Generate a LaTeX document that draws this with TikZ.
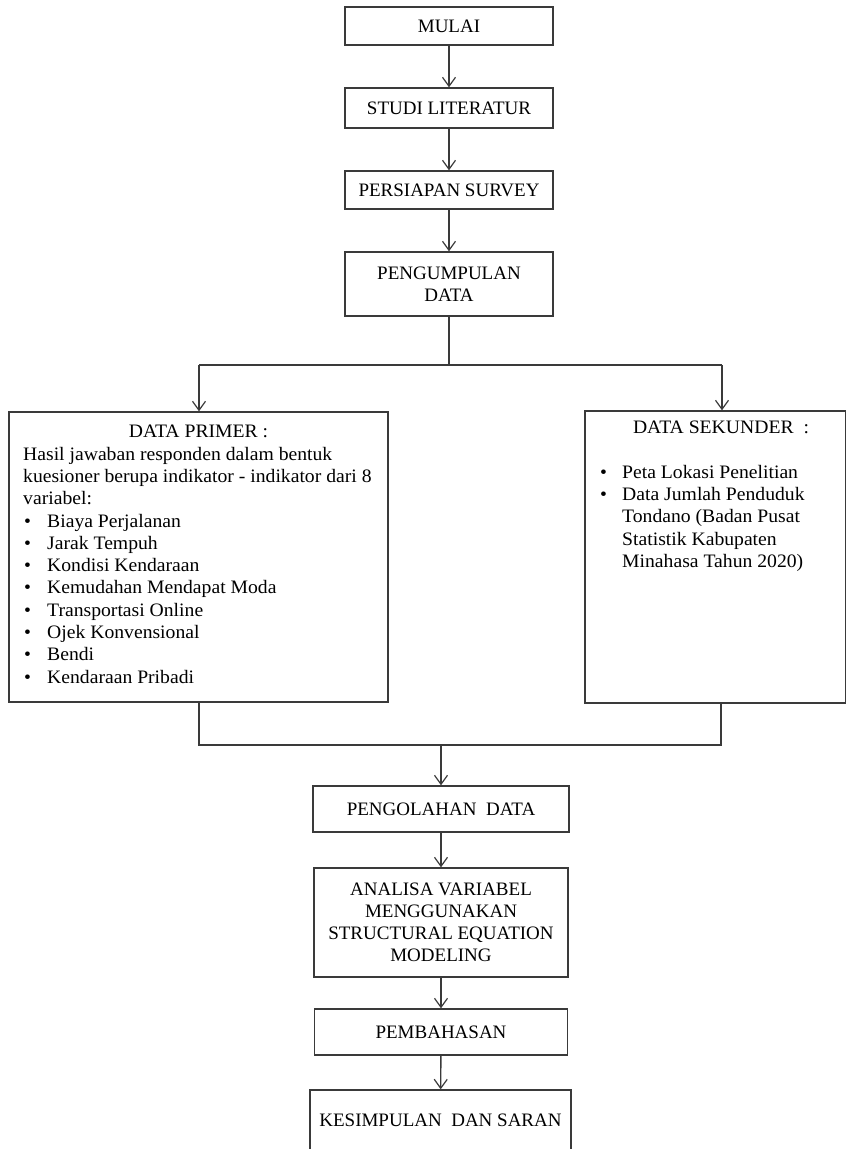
\documentclass[tikz,border=0pt]{standalone}
\usepackage{fontspec}
\setmainfont{Liberation Serif}
\newfontfamily\listfont{Liberation Serif}[FakeStretch=1.035]
\usetikzlibrary{arrows.meta}
\definecolor{linecol}{HTML}{3A3A3A}
\begin{document}
\begin{tikzpicture}[x=1pt,y=-1pt,
  box/.style={draw=linecol, line width=1.4pt, inner sep=0pt, align=center, font=\fontsize{19}{22}\selectfont},
  conn/.style={draw=linecol, line width=1.4pt},
  arr/.style={conn, -{Straight Barb[length=9pt,width=13pt,line width=1.2pt]}},
  txt/.style={inner sep=0pt, anchor=base west, font=\listfont\fontsize{19}{22}\selectfont},
  ctxt/.style={txt, anchor=base}]
\useasboundingbox (0,0) rectangle (846,1149);
% boxes
\node[box, minimum width=208pt, minimum height=38pt] (mulai) at (449,26) {MULAI};
\node[box, minimum width=208pt, minimum height=40pt] (studi) at (449,108) {STUDI LITERATUR};
\node[box, minimum width=208pt, minimum height=38pt] (persiapan) at (449,190) {PERSIAPAN SURVEY};
\node[box, minimum width=208pt, minimum height=64pt] (kumpul) at (449,284) {PENGUMPULAN\\DATA};
\node[box, minimum width=379pt, minimum height=290pt] (primer) at (198.5,557) {};
\node[box, minimum width=261pt, minimum height=292pt] (sekunder) at (715.5,557) {};
\node[box, minimum width=256pt, minimum height=46pt] (olah) at (441,809) {PENGOLAHAN\ \ DATA};
\node[box, minimum width=254pt, minimum height=109pt] (analisa) at (441,922.5) {ANALISA VARIABEL\\MENGGUNAKAN\\STRUCTURAL EQUATION\\MODELING};
\node[box, minimum width=253pt, minimum height=46pt] (bahas) at (441,1032) {PEMBAHASAN};
\node[box, minimum width=261pt, minimum height=60pt] (simpul) at (440.5,1120) {KESIMPULAN\ \ DAN SARAN};
% primer text
\node[ctxt] (ptitle) at (198.5,437) {DATA PRIMER :};
\node[txt] (pl1) at (23,460) {Hasil jawaban responden dalam bentuk};
\node[txt] (pl2) at (23,482) {kuesioner berupa indikator - indikator dari 8};
\node[txt] (pl3) at (23,504) {variabel:};
\foreach \t [count=\i] in {Biaya Perjalanan, Jarak Tempuh, Kondisi Kendaraan, Kemudahan Mendapat Moda, Transportasi Online, Ojek Konvensional, Bendi, Kendaraan Pribadi}{
  \node[txt] (pb\i) at (24,{527+22.3*(\i-1)}) {\textbullet};
  \node[txt] (pi\i) at (47,{527+22.3*(\i-1)}) {\t};
}
% sekunder text
\node[ctxt] (stitle) at (721,433) {DATA SEKUNDER\ \ :};
\node[txt] (sb1) at (600,478) {\textbullet};
\node[txt] (si1) at (622,478) {Peta Lokasi Penelitian};
\node[txt] (sb2) at (600,500) {\textbullet};
\node[txt] (si2) at (622,500) {Data Jumlah Penduduk};
\node[txt] (si3) at (622,522) {Tondano (Badan Pusat};
\node[txt] (si4) at (622,545) {Statistik Kabupaten};
\node[txt] (si5) at (622,567) {Minahasa Tahun 2020)};
% connectors
\draw[arr] (mulai) -- (studi);
\draw[arr] (studi) -- (persiapan);
\draw[arr] (persiapan) -- (kumpul);
\coordinate (split) at (449,365);
\coordinate (sl) at (199,365);
\coordinate (sr) at (722,365);
\draw[conn] (kumpul.south) -- (split);
\draw[conn] (sl) -- (sr);
\draw[arr] (sl) -- (sl |- primer.north);
\draw[arr] (sr) -- (sr |- sekunder.north);
\coordinate (jl) at (199,745);
\coordinate (jr) at (721,745);
\coordinate (jm) at (441,745);
\draw[conn] (jl |- primer.south) -- (jl) -- (jr) -- (jr |- sekunder.south);
\draw[arr] (jm) -- (olah.north);
\draw[arr] (olah) -- (analisa);
\draw[arr] (analisa) -- (bahas);
\draw[arr] (bahas) -- (simpul);
\end{tikzpicture}
\end{document}
